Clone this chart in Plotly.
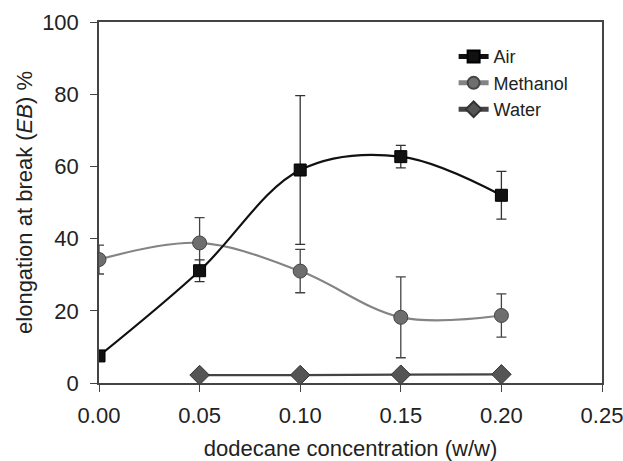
import plotly.graph_objects as go

x_air = [0.00, 0.05, 0.10, 0.15, 0.20]
y_air = [7.5, 31.1, 59.0, 62.7, 52.0]
e_air = [0.0, 3.0, 20.6, 3.1, 6.6]

x_meth = [0.00, 0.05, 0.10, 0.15, 0.20]
y_meth = [34.2, 38.8, 31.0, 18.2, 18.7]
e_meth = [4.0, 7.0, 6.0, 11.2, 6.0]

x_water = [0.05, 0.10, 0.15, 0.20]
y_water = [2.2, 2.2, 2.3, 2.4]

x_ticks = [0.00, 0.05, 0.10, 0.15, 0.20, 0.25]
y_ticks = [0, 20, 40, 60, 80, 100]

font = "Liberation Sans, Arial, sans-serif"

fig = go.Figure()
fig.add_trace(go.Scatter(
    x=x_water, y=y_water, name="Water", mode="lines+markers",
    line=dict(color="#444444", width=2.2, shape="spline"),
    marker=dict(symbol="diamond", size=15, color="#555555", line=dict(color="#333333", width=1)),
))
fig.add_trace(go.Scatter(
    x=x_meth, y=y_meth, name="Methanol", mode="lines+markers",
    line=dict(color="#848484", width=2.2, shape="spline", smoothing=1.0),
    marker=dict(symbol="circle", size=14, color="#6e6e6e", line=dict(color="#444444", width=1)),
    error_y=dict(type="data", array=e_meth, color="#444444", thickness=1.3, width=5),
))
fig.add_trace(go.Scatter(
    x=x_air, y=y_air, name="Air", mode="lines+markers",
    line=dict(color="#111111", width=2.2, shape="spline", smoothing=1.0),
    marker=dict(symbol="square", size=12, color="#111111", line=dict(color="#000000", width=1)),
    error_y=dict(type="data", array=e_air, color="#333333", thickness=1.3, width=5),
))

fig.update_layout(
    width=623, height=461,
    margin=dict(l=99, r=21, t=22, b=78, autoexpand=False),
    paper_bgcolor="white", plot_bgcolor="white",
    font=dict(family=font, size=22, color="#222222"),
    showlegend=True,
    legend=dict(x=0.705, y=0.955, xanchor="left", yanchor="top",
                traceorder="reversed", font=dict(size=18),
                bgcolor="rgba(0,0,0,0)", tracegroupgap=0, itemsizing="constant"),
    xaxis=dict(range=[0, 0.25], tickvals=x_ticks, ticktext=[f"{v:.2f}" for v in x_ticks],
               showgrid=False, zeroline=False, showline=True, linecolor="#444444",
               linewidth=1.5, mirror=True, ticks="outside", ticklen=7, tickcolor="#444444",
               ticklabelstandoff=5, tickfont=dict(size=22), automargin=False,
               ticklabeloverflow="allow",
               title=dict(text="dodecane concentration (w/w)", standoff=17, font=dict(size=22))),
    yaxis=dict(range=[0, 100], tickvals=y_ticks, showgrid=False, zeroline=False,
               showline=True, linecolor="#444444", linewidth=1.5, mirror=True,
               ticks="outside", ticklen=7, tickcolor="#444444",
               ticklabelstandoff=7, tickfont=dict(size=22), automargin=False,
               title=dict(text="elongation at break (<i>EB</i>) %", standoff=3, font=dict(size=22))),
)

fig.write_html("out.html")
